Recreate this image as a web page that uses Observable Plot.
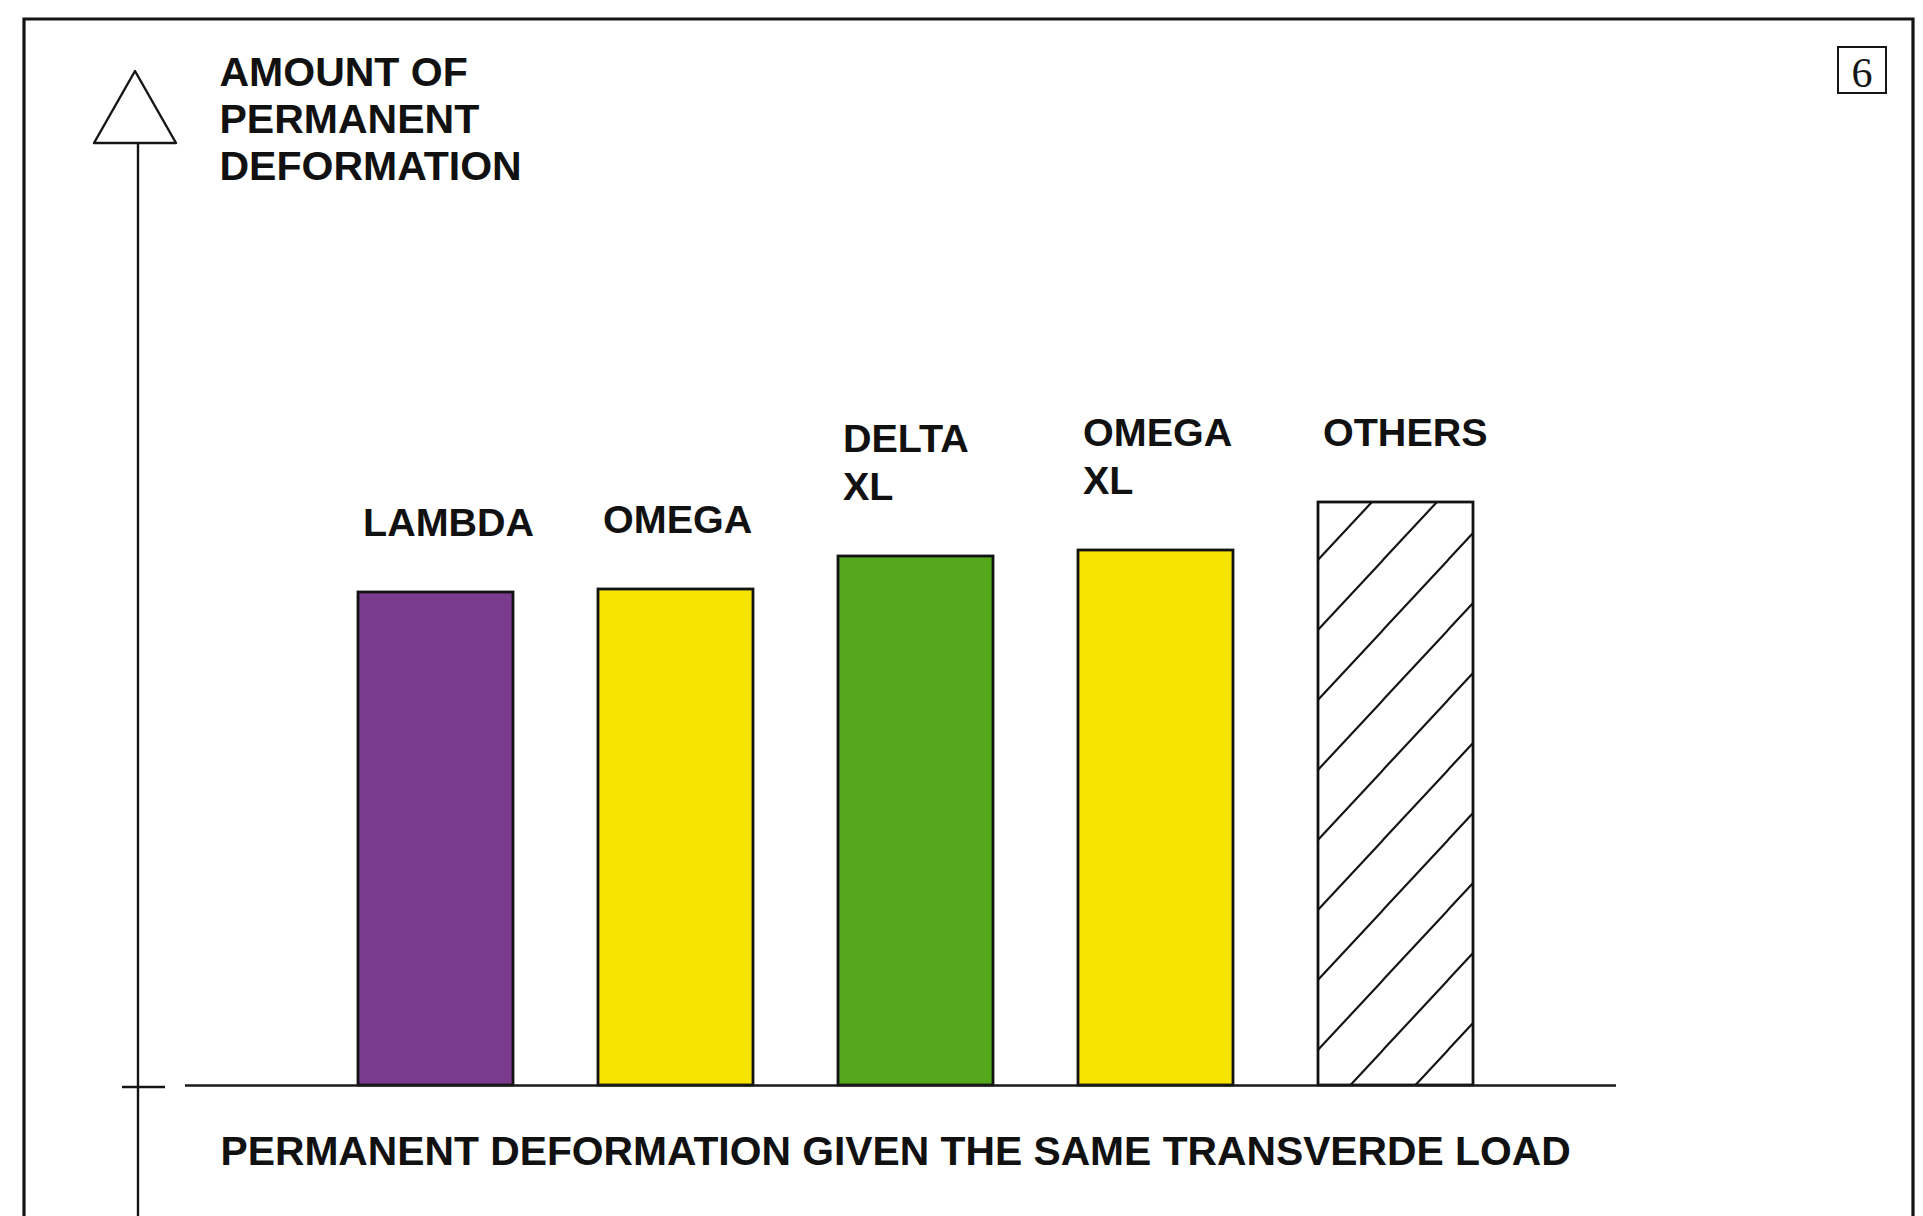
<!DOCTYPE html>
<html>
<head>
<meta charset="utf-8">
<script src="https://cdn.jsdelivr.net/npm/d3@7"></script>
<script src="https://cdn.jsdelivr.net/npm/@observablehq/plot@0.6"></script>
<style>
  html, body { margin: 0; padding: 0; background: #fff; overflow: hidden; }
  #chart svg { display: block; }
</style>
</head>
<body>
<div id="chart"></div>
<script>
// ---- data (arbitrary units, no y ticks in the original) ----
const categories = ["LAMBDA", "OMEGA", "DELTA XL", "OMEGA XL", "OTHERS"];
const barLabels = ["LAMBDA", "OMEGA", "DELTA\nXL", "OMEGA\nXL", "OTHERS"];
const deformation = [4.93, 4.96, 5.29, 5.35, 5.83];
const yTitle = "AMOUNT OF\nPERMANENT\nDEFORMATION";
const xTitle = "PERMANENT DEFORMATION GIVEN THE SAME TRANSVERDE LOAD";
const pageNumber = "6";

const palette = ["#7a3b8f", "#f7e400", "#55a81b", "#f7e400", "url(#hatch)"];

const data = categories.map((c, i) => ({category: c, label: barLabels[i], value: deformation[i]}));

const W = 1923, H = 1216;
const font = "'Liberation Sans', Arial, Helvetica, sans-serif";

const plot = Plot.plot({
  width: W,
  height: H,
  marginLeft: 185,
  marginRight: 307,
  marginTop: 0,
  marginBottom: 0,
  style: {background: "white"},
  x: {type: "band", domain: categories, range: [356, 1474], paddingInner: 0.355, paddingOuter: 0, axis: null},
  y: {domain: [0, 10], range: [1085, 85], axis: null},
  color: {type: "ordinal", domain: categories, range: palette},
  marks: [
    Plot.barY(data, {x: "category", y: "value", fill: "category", stroke: "#121212", strokeWidth: 2.8}),
    Plot.ruleY([0], {stroke: "#1a1a1a", strokeWidth: 2.6}),
    Plot.text(data, {
      x: "category", y: "value", text: "label",
      textAnchor: "start", lineAnchor: "bottom", lineHeight: 1.2,
      dx: -73, dy: -57,
      fontFamily: font, fontSize: 39.5, fontWeight: "bold", fill: "#111"
    }),
    Plot.text([yTitle], {
      frameAnchor: "top-left", textAnchor: "start", lineAnchor: "top", lineHeight: 1.15,
      dx: 34, dy: 52,
      fontFamily: font, fontSize: 41, fontWeight: "bold", fill: "#111"
    }),
    Plot.text([xTitle], {
      frameAnchor: "bottom-left", textAnchor: "start", lineAnchor: "bottom",
      dx: 35, dy: -52,
      fontFamily: font, fontSize: 40.8, fontWeight: "bold", fill: "#111"
    })
  ]
});

// ---- decorations: hatch pattern, page frame, y-axis arrow, page number box ----
const svg = d3.select(plot);
const y0 = plot.scale("y").apply(0);

const defs = svg.insert("defs", ":first-child");
const pat = defs.append("pattern")
  .attr("id", "hatch")
  .attr("patternUnits", "userSpaceOnUse")
  .attr("x", 18).attr("y", 0)
  .attr("width", 65).attr("height", 70);
pat.append("rect").attr("width", 65).attr("height", 70).attr("fill", "white");
pat.append("path")
  .attr("d", "M-2,72 L67,-2 M-2,2 L2,-2 M63,72 L67,68")
  .attr("stroke", "#151515").attr("stroke-width", 2.2).attr("fill", "none");

const deco = svg.append("g").attr("fill", "none").attr("stroke", "#151515");
// page frame (open at the bottom)
deco.append("path").attr("d", `M24,${H} V19 H1913 V${H}`).attr("stroke-width", 3.2);
// y axis arrow
deco.append("line").attr("x1", 138).attr("x2", 138).attr("y1", 143).attr("y2", H).attr("stroke-width", 2.4);
deco.append("path").attr("d", "M135,71 L176,143 L94,143 Z").attr("fill", "white").attr("stroke-width", 2.4).attr("stroke-linejoin", "round");
// small cross tick at the baseline
deco.append("line").attr("x1", 122).attr("x2", 165).attr("y1", y0 + 2).attr("y2", y0 + 2).attr("stroke-width", 2.6);
// page number box
deco.append("rect").attr("x", 1838).attr("y", 47).attr("width", 48).attr("height", 46).attr("stroke-width", 2);
svg.append("text")
  .attr("x", 1862).attr("y", 87)
  .attr("text-anchor", "middle")
  .attr("font-family", "'Liberation Serif', 'Times New Roman', serif")
  .attr("font-size", 42)
  .attr("fill", "#151515")
  .text(pageNumber);

document.getElementById("chart").appendChild(plot);
</script>
</body>
</html>
